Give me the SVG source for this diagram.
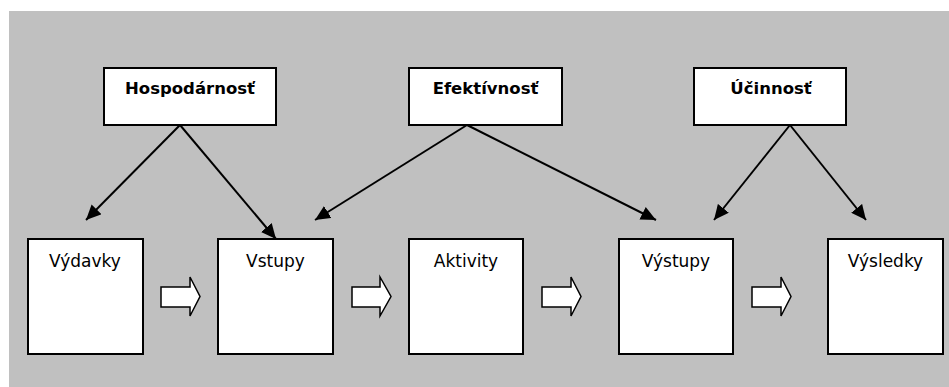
<svg xmlns="http://www.w3.org/2000/svg" width="949" height="387" viewBox="0 0 949 387">
<style>
.box{fill:#fff;stroke:#000;stroke-width:2}
.top{font-family:"DejaVu Sans",Verdana,sans-serif;font-weight:bold;font-size:16.5px;text-anchor:middle;fill:#000}
.lbl{font-family:"DejaVu Sans",Verdana,sans-serif;font-size:17px;text-anchor:middle;fill:#000}
.con{stroke:#000;stroke-width:2;fill:none;marker-end:url(#ah)}
.blk{fill:#fff;stroke:#000;stroke-width:1.5;stroke-linejoin:miter}
</style>
<defs>
<marker id="ah" markerUnits="userSpaceOnUse" markerWidth="16" markerHeight="14" refX="15" refY="7" orient="auto">
<path d="M0,0 L15,7 L0,14 z" fill="#000"/>
</marker>
</defs>
<rect x="9" y="11" width="940" height="376" fill="#c0c0c0"/>
<g id="hospodarnost"><rect class="box" x="104" y="68" width="172" height="57"/><text class="top" x="190" y="94">Hospodárnosť</text></g>
<g id="efektivnost"><rect class="box" x="409" y="68" width="153" height="57"/><text class="top" x="485.5" y="94">Efektívnosť</text></g>
<g id="ucinnost"><rect class="box" x="694" y="68" width="152" height="57"/><text class="top" x="771" y="94">Účinnosť</text></g>
<g id="vydavky"><rect class="box" x="28" y="239" width="115" height="115"/><text class="lbl" x="85" y="267">Výdavky</text></g>
<g id="vstupy"><rect class="box" x="218" y="239" width="115" height="115"/><text class="lbl" x="275.5" y="267">Vstupy</text></g>
<g id="aktivity"><rect class="box" x="409" y="239" width="114" height="115"/><text class="lbl" x="466" y="267">Aktivity</text></g>
<g id="vystupy"><rect class="box" x="619" y="239" width="114" height="115"/><text class="lbl" x="676" y="267">Výstupy</text></g>
<g id="vysledky"><rect class="box" x="828" y="239" width="115" height="115"/><text class="lbl" x="885.5" y="267">Výsledky</text></g>
<g id="connectors">
<line class="con" x1="180" y1="125" x2="86" y2="220"/>
<line class="con" x1="180" y1="125" x2="276" y2="239"/>
<line class="con" x1="467" y1="125" x2="315" y2="220"/>
<line class="con" x1="467" y1="125" x2="656" y2="220"/>
<line class="con" x1="790" y1="125" x2="714" y2="220"/>
<line class="con" x1="790" y1="125" x2="866" y2="220"/>
<path class="blk" d="M161,287 H190 V277 L200,296.5 L190,316 V307 H161 Z"/>
<path class="blk" d="M352,287 H380 V277 L391,296.5 L380,316 V307 H352 Z"/>
<path class="blk" d="M542,287 H571 V277 L581,296.5 L571,316 V307 H542 Z"/>
<path class="blk" d="M752,287 H781 V277 L791,296.5 L781,316 V307 H752 Z"/>
</g>
</svg>
